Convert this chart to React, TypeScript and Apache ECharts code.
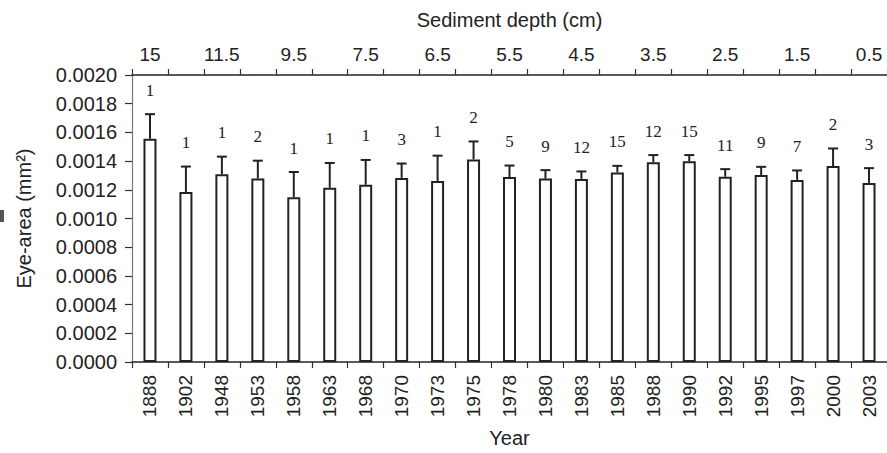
import React, { useEffect, useRef } from "react";
import * as echarts from "echarts";

const years = ["1888","1902","1948","1953","1958","1963","1968","1970","1973","1975","1978","1980","1983","1985","1988","1990","1992","1995","1997","2000","2003"];
const depthLabels = ["15","11.5","9.5","7.5","6.5","5.5","4.5","3.5","2.5","1.5","0.5"];
const meanArea = [0.001556,0.001185,0.001308,0.001278,0.001148,0.001214,0.001235,0.001283,0.001262,0.001412,0.001289,0.001278,0.001276,0.001321,0.001392,0.001399,0.001291,0.001303,0.001269,0.001365,0.001248];
const upperError = [0.001727,0.001362,0.001431,0.001403,0.001324,0.001387,0.001408,0.001383,0.001438,0.001537,0.001369,0.001337,0.001328,0.001367,0.001442,0.001442,0.001344,0.00136,0.001335,0.001488,0.001351];
const sampleCounts = [1,1,1,2,1,1,1,3,1,2,5,9,12,15,12,15,11,9,7,2,3];
const yTicks = { min: 0, max: 0.002, interval: 0.0002 };

const SANS = "'Liberation Sans', Arial, sans-serif";
const SERIF = "'Liberation Serif', 'Times New Roman', serif";

export default function App() {
  const ref = useRef<HTMLDivElement>(null);
  useEffect(() => {
    if (!ref.current) return;
    const chart = echarts.init(ref.current, undefined, { renderer: "svg" });
    const topCats = years.map((_, i) => (i % 2 === 0 ? depthLabels[i / 2] : ""));
    chart.setOption({
      animation: false,
      backgroundColor: "#ffffff",
      grid: { left: 132, top: 75, right: -1, bottom: 85 },
      graphic: [
        { type: "rect", shape: { x: 0, y: 210, width: 4, height: 12 }, style: { fill: "#555" } },
      ],
      xAxis: [
        {
          type: "category",
          data: years,
          position: "bottom",
          boundaryGap: true,
          axisLine: { lineStyle: { color: "#222", width: 1.5 } },
          axisTick: { show: true, length: 6, lineStyle: { color: "#333", width: 1.2 } },
          axisLabel: { interval: 0, rotate: 90, fontSize: 19, color: "#222", fontFamily: SANS, margin: 13 },
          name: "Year",
          nameLocation: "middle",
          nameGap: 66,
          nameTextStyle: { fontSize: 20, color: "#222", fontFamily: SANS },
        },
        {
          type: "category",
          data: topCats,
          position: "top",
          boundaryGap: true,
          axisLine: { lineStyle: { color: "#222", width: 1.5 } },
          axisTick: { show: true, length: 6, interval: 0, lineStyle: { color: "#333", width: 1.2 } },
          axisLabel: { interval: 0, fontSize: 19, color: "#222", fontFamily: SANS, margin: 11 },
          name: "Sediment depth (cm)",
          nameLocation: "middle",
          nameGap: 45,
          nameTextStyle: { fontSize: 20, color: "#222", fontFamily: SANS },
        },
      ],
      yAxis: {
        type: "value",
        min: yTicks.min,
        max: yTicks.max,
        interval: yTicks.interval,
        axisLine: { show: true, lineStyle: { color: "#777", width: 1.2 } },
        axisTick: { show: true, length: 7, lineStyle: { color: "#333", width: 1.2 } },
        splitLine: { show: false },
        axisLabel: { fontSize: 20, color: "#222", fontFamily: SANS, margin: 15, formatter: (v: number) => v.toFixed(4) },
        name: "Eye-area (mm²)",
        nameLocation: "middle",
        nameGap: 98,
        nameTextStyle: { fontSize: 20, color: "#222", fontFamily: SANS },
      },
      series: [
        {
          type: "bar",
          xAxisIndex: 0,
          data: meanArea,
          barWidth: 13,
          itemStyle: { color: "#ffffff", borderColor: "#222", borderWidth: 2 },
          z: 2,
        },
        {
          type: "custom",
          xAxisIndex: 0,
          data: years.map((_, i) => [i, meanArea[i], upperError[i], sampleCounts[i]]),
          z: 3,
          renderItem: (params: any, api: any) => {
            const i = api.value(0);
            const base = api.coord([i, api.value(1)]);
            const top = api.coord([i, api.value(2)]);
            const half = 5;
            return {
              type: "group",
              children: [
                { type: "line", shape: { x1: base[0], y1: base[1], x2: top[0], y2: top[1] }, style: { stroke: "#222", lineWidth: 2 } },
                { type: "line", shape: { x1: top[0] - half, y1: top[1], x2: top[0] + half, y2: top[1] }, style: { stroke: "#222", lineWidth: 2 } },
                {
                  type: "text",
                  x: top[0],
                  y: top[1] - 24,
                  style: { text: String(api.value(3)), fontSize: 17, fontFamily: SERIF, fill: "#222", align: "center", verticalAlign: "middle" },
                },
              ],
            };
          },
        },
      ],
    });
    return () => chart.dispose();
  }, []);
  return <div ref={ref} style={{ width: 887, height: 453, position: "absolute", left: 0, top: 0 }} />;
}
